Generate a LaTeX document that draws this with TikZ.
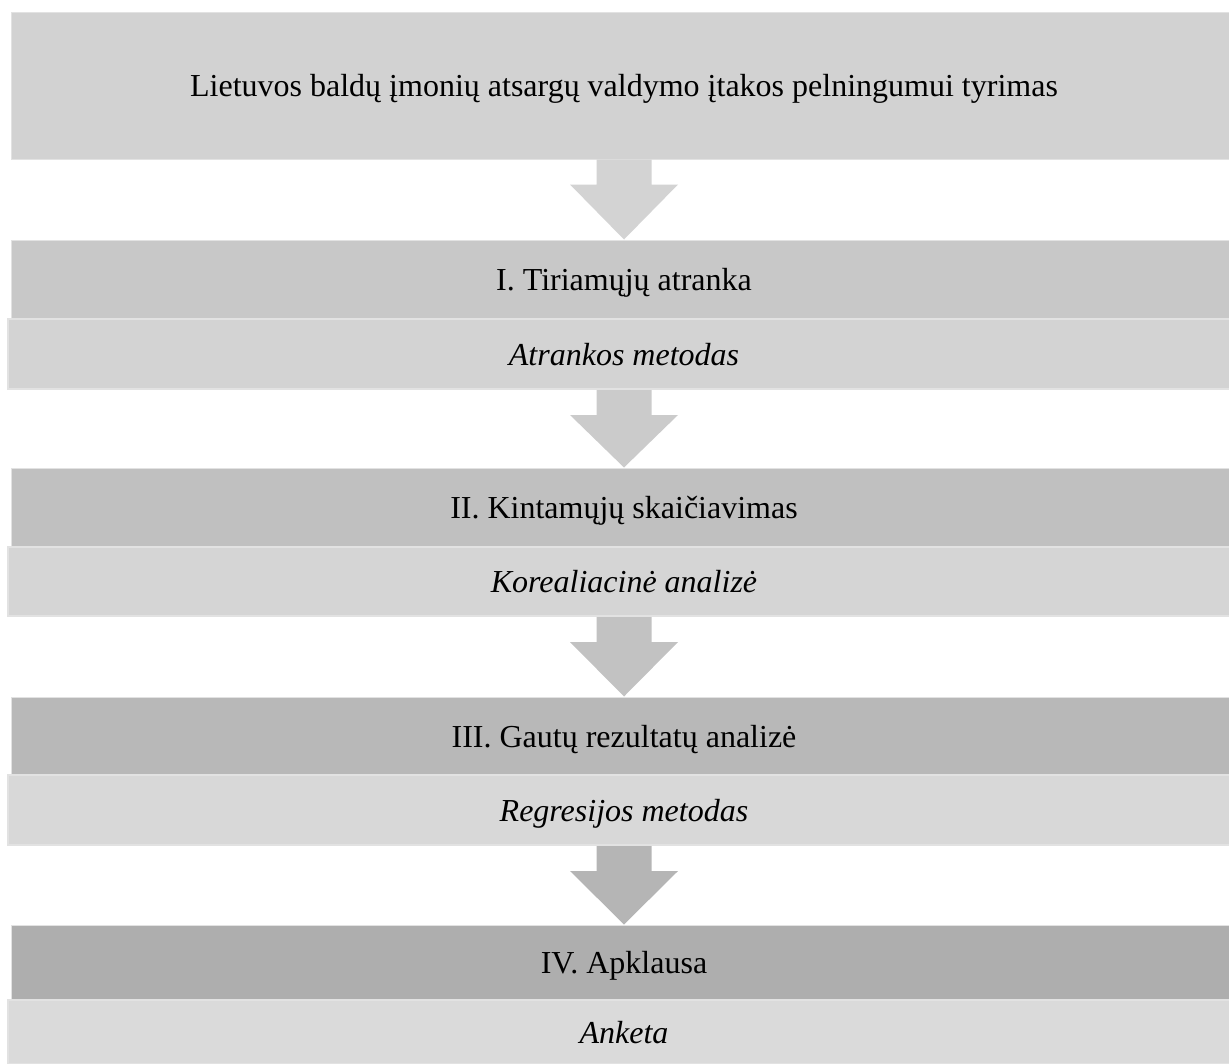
\documentclass[tikz,border=0pt]{standalone}
\usepackage{fontspec}
\setmainfont{Liberation Serif}
\usepackage{tikz}
\usetikzlibrary{calc}
\definecolor{topgrey}{HTML}{D2D2D2}
\definecolor{edge}{HTML}{E2E2E2}
\definecolor{headA}{HTML}{C8C8C8}
\definecolor{headB}{HTML}{C0C0C0}
\definecolor{headC}{HTML}{B8B8B8}
\definecolor{headD}{HTML}{AEAEAE}
\definecolor{subA}{HTML}{D3D3D3}
\definecolor{subB}{HTML}{D5D5D5}
\definecolor{subC}{HTML}{D8D8D8}
\definecolor{subD}{HTML}{DADADA}
\definecolor{arrA}{HTML}{D3D3D3}
\definecolor{arrB}{HTML}{CBCBCB}
\definecolor{arrC}{HTML}{C2C2C2}
\definecolor{arrD}{HTML}{B5B5B5}

% block arrow from the bottom of #1 to the top of #2
\newcommand{\flowarrow}[3]{%
  \fill[#3] ([xshift=-27.5pt]#1.south) -- ([xshift=-27.5pt,yshift=-25pt]#1.south)
    -- ([xshift=-54pt,yshift=-25pt]#1.south) -- (#2.north)
    -- ([xshift=54pt,yshift=-25pt]#1.south) -- ([xshift=27.5pt,yshift=-25pt]#1.south)
    -- ([xshift=27.5pt]#1.south) -- cycle;}

\begin{document}
\begin{tikzpicture}[x=1pt,y=-1pt,
    font=\fontsize{32}{38}\selectfont,
    box/.style={rectangle,inner sep=0pt,text height=22pt,text depth=0pt,
      minimum width=1226pt,draw=edge,line width=1pt},
    headbox/.style={box,minimum height=#1},
    subbox/.style={box,minimum width=1232pt,line width=2pt,
      font=\fontsize{32}{38}\selectfont\itshape,minimum height=#1}]
  \useasboundingbox (0,0) rectangle (1229,1063);
  \begin{scope}
    \clip (0,0) rectangle (1229,1063);
    \node[box,fill=topgrey,minimum height=147pt] (top) at (624,85.5)
      {Lietuvos baldų įmonių atsargų valdymo įtakos pelningumui tyrimas};

    \node[headbox=79pt,fill=headA] (h1) at (624,279.5) {I. Tiriamųjų atranka};
    \node[subbox=70pt,fill=subA] (s1) at (624,354) {Atrankos metodas};

    \node[headbox=79pt,fill=headB] (h2) at (624,507.5) {II. Kintamųjų skaičiavimas};
    \node[subbox=69pt,fill=subB] (s2) at (624,581.5) {Korealiacinė analizė};

    \node[headbox=78pt,fill=headC] (h3) at (624,736) {III. Gautų rezultatų analizė};
    \node[subbox=70pt,fill=subC] (s3) at (624,810) {Regresijos metodas};

    \node[headbox=75pt,fill=headD] (h4) at (624,962.5) {IV. Apklausa};
    \node[subbox=64pt,fill=subD] (s4) at (624,1032) {Anketa};

    \flowarrow{top}{h1}{arrA}
    \flowarrow{s1}{h2}{arrB}
    \flowarrow{s2}{h3}{arrC}
    \flowarrow{s3}{h4}{arrD}
  \end{scope}
\end{tikzpicture}
\end{document}
